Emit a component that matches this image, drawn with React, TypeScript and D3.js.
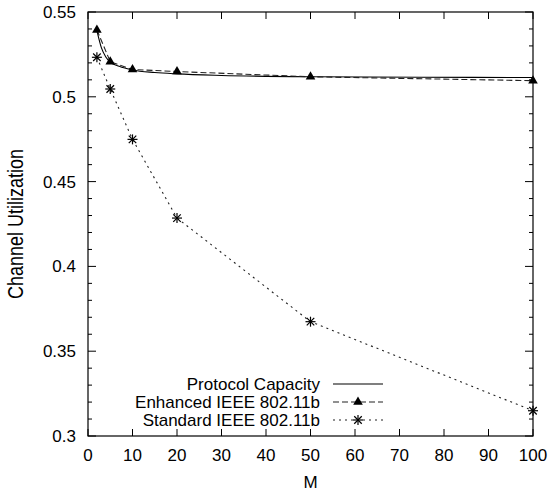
import React, { useEffect, useRef } from 'react'
import * as d3 from 'd3'

const capM = [2, 3, 4, 5, 7, 10, 15, 20, 30, 50, 75, 100]
const capacity = [0.539, 0.529, 0.5235, 0.5205, 0.518, 0.5158, 0.5143, 0.5135, 0.5126, 0.5118, 0.5115, 0.5114]

const pointM = [2, 5, 10, 20, 50, 100]
const enhanced = [0.5394, 0.5207, 0.5161, 0.5149, 0.5118, 0.5095]
const standard = [0.5233, 0.5046, 0.4749, 0.4285, 0.3674, 0.3149]

const xTicks = [0, 10, 20, 30, 40, 50, 60, 70, 80, 90, 100]
const yTicks = [0.3, 0.35, 0.4, 0.45, 0.5, 0.55]
const legendLabels = ['Protocol Capacity', 'Enhanced IEEE 802.11b', 'Standard IEEE 802.11b']

const W = 549
const H = 491
const margin = { left: 88, right: 16, top: 12, bottom: 55 }

const App = () => {
  const ref = useRef<SVGSVGElement>(null)

  useEffect(() => {
    const svg = d3.select(ref.current)
    svg.selectAll('*').remove()
    const x0 = margin.left, x1 = W - margin.right
    const y0 = H - margin.bottom, y1 = margin.top
    const x = d3.scaleLinear().domain([0, 100]).range([x0, x1])
    const y = d3.scaleLinear().domain([0.3, 0.55]).range([y0, y1])
    const font = 'Liberation Sans, Arial, sans-serif'
    const fs = 17

    const g = svg.append('g')

    // y ticks every 0.01, longer at labelled values
    const minor = d3.range(0.3, 0.5501, 0.01)
    minor.forEach((v) => {
      const major = Math.abs(Math.round(v * 20) - v * 20) < 1e-6
      const len = major ? 8 : 4
      g.append('line').attr('x1', x0).attr('x2', x0 + len).attr('y1', y(v)).attr('y2', y(v)).attr('stroke', '#000')
      g.append('line').attr('x1', x1).attr('x2', x1 - len).attr('y1', y(v)).attr('y2', y(v)).attr('stroke', '#000')
    })
    xTicks.forEach((v) => {
      g.append('line').attr('x1', x(v)).attr('x2', x(v)).attr('y1', y0).attr('y2', y0 - 7).attr('stroke', '#000')
      g.append('line').attr('x1', x(v)).attr('x2', x(v)).attr('y1', y1).attr('y2', y1 + 7).attr('stroke', '#000')
      g.append('text').attr('x', x(v)).attr('y', y0 + 25).attr('text-anchor', 'middle')
        .attr('font-family', font).attr('font-size', fs).text(v)
    })
    yTicks.forEach((v) => {
      g.append('text').attr('x', x0 - 12).attr('y', y(v) + 6).attr('text-anchor', 'end')
        .attr('font-family', font).attr('font-size', fs).text(String(v))
    })

    g.append('rect').attr('x', x0).attr('y', y1).attr('width', x1 - x0).attr('height', y0 - y1)
      .attr('fill', 'none').attr('stroke', '#000').attr('stroke-width', 1.2)

    g.append('text').attr('x', (x0 + x1) / 2).attr('y', H - 3).attr('text-anchor', 'middle')
      .attr('font-family', font).attr('font-size', fs).text('M')
    g.append('text').attr('transform', `translate(23,${(y0 + y1) / 2}) rotate(-90) scale(1,1.2)`).attr('text-anchor', 'middle')
      .attr('font-family', font).attr('font-size', 18).text('Channel Utilization')

    const capLine = d3.line<number>().x((d, i) => x(capM[i])).y((d) => y(d)).curve(d3.curveMonotoneX)
    const ptLine = d3.line<number>().x((d, i) => x(pointM[i])).y((d) => y(d))

    g.append('path').attr('d', capLine(capacity)).attr('fill', 'none').attr('stroke', '#000').attr('stroke-width', 1.1)
    g.append('path').attr('d', ptLine(enhanced)).attr('fill', 'none').attr('stroke', '#222')
      .attr('stroke-width', 1.1).attr('stroke-dasharray', '6,3')
    g.append('path').attr('d', ptLine(standard)).attr('fill', 'none').attr('stroke', '#222')
      .attr('stroke-width', 1.1).attr('stroke-dasharray', '2,4')

    const tri = d3.symbol().type(d3.symbolTriangle).size(40)
    const star = (cx: number, cy: number) => {
      const r = 5
      const s = svg.append('g').attr('transform', `translate(${cx},${cy})`)
      ;[[-r, 0, r, 0], [0, -r, 0, r], [-r * 0.75, -r * 0.75, r * 0.75, r * 0.75], [-r * 0.75, r * 0.75, r * 0.75, -r * 0.75]].forEach((l) => {
        s.append('line').attr('x1', l[0]).attr('y1', l[1]).attr('x2', l[2]).attr('y2', l[3]).attr('stroke', '#000').attr('stroke-width', 1.2)
      })
    }
    enhanced.forEach((v, i) => {
      g.append('path').attr('d', tri).attr('transform', `translate(${x(pointM[i])},${y(v)})`).attr('fill', '#000')
    })
    standard.forEach((v, i) => star(x(pointM[i]), y(v)))

    // legend
    const lx0 = 333, lx1 = 383
    legendLabels.forEach((t, i) => {
      const ly = 384 + i * 18
      g.append('text').attr('x', lx0 - 13).attr('y', ly + 6).attr('text-anchor', 'end')
        .attr('font-family', font).attr('font-size', fs).text(t)
      const ln = g.append('line').attr('x1', lx0).attr('x2', lx1).attr('y1', ly).attr('y2', ly)
        .attr('stroke', i === 0 ? '#000' : '#222').attr('stroke-width', 1.1)
      if (i === 1) ln.attr('stroke-dasharray', '6,3')
      if (i === 2) ln.attr('stroke-dasharray', '2,4')
      if (i === 1) g.append('path').attr('d', tri).attr('transform', `translate(${(lx0 + lx1) / 2},${ly})`).attr('fill', '#000')
      if (i === 2) star((lx0 + lx1) / 2, ly)
    })
  }, [])

  return (
    <svg ref={ref} width={W} height={H} style={{ position: 'absolute', left: 0, top: 0, background: '#fff' }} />
  )
}

export default App
